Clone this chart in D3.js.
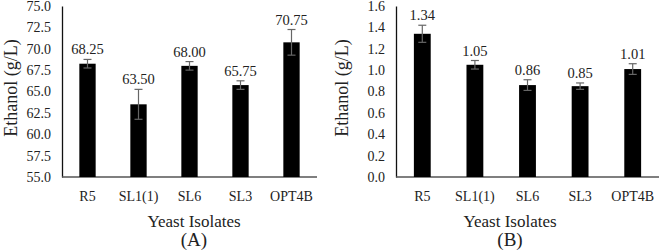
<!DOCTYPE html>
<html><head><meta charset="utf-8">
<script src="https://cdn.jsdelivr.net/npm/d3@7"></script>
<style>body{margin:0;background:#fff}svg{display:block}</style>
</head><body><svg id="c" width="659" height="250" font-family="Liberation Serif"></svg>
<script>
const categories = ["R5","SL1(1)","SL6","SL3","OPT4B"];
const valuesA = [68.25, 63.50, 68.00, 65.75, 70.75];
const errorsA = [0.5, 1.75, 0.5, 0.5, 1.5];
const labelsA = ["68.25","63.50","68.00","65.75","70.75"];
const ticksA = [55.0,57.5,60.0,62.5,65.0,67.5,70.0,72.5,75.0];
const valuesB = [1.34, 1.05, 0.86, 0.85, 1.01];
const errorsB = [0.08, 0.04, 0.05, 0.03, 0.05];
const labelsB = ["1.34","1.05","0.86","0.85","1.01"];
const ticksB = [0.0,0.2,0.4,0.6,0.8,1.0,1.2,1.4,1.6];

const FONT = "Liberation Serif";
const svg = d3.select("#c");
function panel(o){
  const g = svg.append("g");
  const x = d3.scaleBand().domain(categories).range([o.x0,o.x1]).paddingInner(0.68).paddingOuter(0.34);
  const y = d3.scaleLinear().domain(o.domain).range([o.yb,o.yt]);
  const ya = d3.axisLeft(y).tickValues(o.ticks).tickSize(0).tickPadding(11).tickFormat(d3.format(".1f"));
  const ag = g.append("g").attr("transform",`translate(${o.x0},0)`).call(ya);
  ag.attr("font-family",FONT).attr("font-size",14);
  ag.select(".domain").attr("stroke","#111").attr("stroke-width",1.3);
  ag.selectAll("text").attr("font-family",FONT).attr("font-size",14).attr("fill","#222");
  g.append("line").attr("x1",o.x0).attr("x2",o.x1).attr("y1",y(o.domain[0])).attr("y2",y(o.domain[0])).attr("stroke","#555").attr("stroke-width",1.3);
  const data = categories.map((c,i)=>({c,v:o.values[i],e:o.errors[i],l:o.labels[i]}));
  g.selectAll("rect.bar").data(data).join("rect").attr("class","bar")
    .attr("x",d=>x(d.c)).attr("width",x.bandwidth())
    .attr("y",d=>y(d.v)).attr("height",d=>y(o.domain[0])-y(d.v)).attr("fill","#000");
  const eb = g.selectAll("g.err").data(data).join("g").attr("class","err").attr("stroke","#666").attr("stroke-width",1.2);
  eb.append("line").attr("x1",d=>x(d.c)+x.bandwidth()/2).attr("x2",d=>x(d.c)+x.bandwidth()/2).attr("y1",d=>y(d.v+d.e)).attr("y2",d=>y(d.v-d.e));
  eb.append("line").attr("x1",d=>x(d.c)+x.bandwidth()/2-4).attr("x2",d=>x(d.c)+x.bandwidth()/2+4).attr("y1",d=>y(d.v+d.e)).attr("y2",d=>y(d.v+d.e));
  eb.append("line").attr("x1",d=>x(d.c)+x.bandwidth()/2-4).attr("x2",d=>x(d.c)+x.bandwidth()/2+4).attr("y1",d=>y(d.v-d.e)).attr("y2",d=>y(d.v-d.e));
  g.selectAll("text.lab").data(data).join("text").attr("class","lab")
    .attr("x",d=>x(d.c)+x.bandwidth()/2).attr("y",d=>y(d.v+d.e)-5)
    .attr("text-anchor","middle").attr("font-family",FONT).attr("font-size",14.5).attr("fill","#222").text(d=>d.l);
  g.selectAll("text.cat").data(categories).join("text").attr("class","cat")
    .attr("x",d=>x(d)+x.bandwidth()/2).attr("y",201).attr("text-anchor","middle").attr("font-family",FONT).attr("font-size",14).attr("fill","#222").text(d=>d);
  g.append("text").attr("x",o.tx).attr("y",227).attr("text-anchor","middle").attr("font-family",FONT).attr("font-size",17).attr("fill","#222").text("Yeast Isolates");
  g.append("text").attr("x",o.tx).attr("y",246).attr("text-anchor","middle").attr("font-family",FONT).attr("font-size",19).attr("fill","#222").text(o.tag);
  g.append("text").attr("transform",`translate(${o.ytx},88) rotate(-90)`).attr("text-anchor","middle").attr("font-family",FONT).attr("font-size",18).attr("fill","#222").text("Ethanol (g/L)");
}
panel({x0:62,x1:317,yt:6,yb:177,domain:[55,75],ticks:ticksA,values:valuesA,errors:errorsA,labels:labelsA,tx:194,tag:"(A)",ytx:17});
panel({x0:396,x1:659,yt:6,yb:177,domain:[0,1.6],ticks:ticksB,values:valuesB,errors:errorsB,labels:labelsB,tx:510,tag:"(B)",ytx:348});
</script></body></html>
